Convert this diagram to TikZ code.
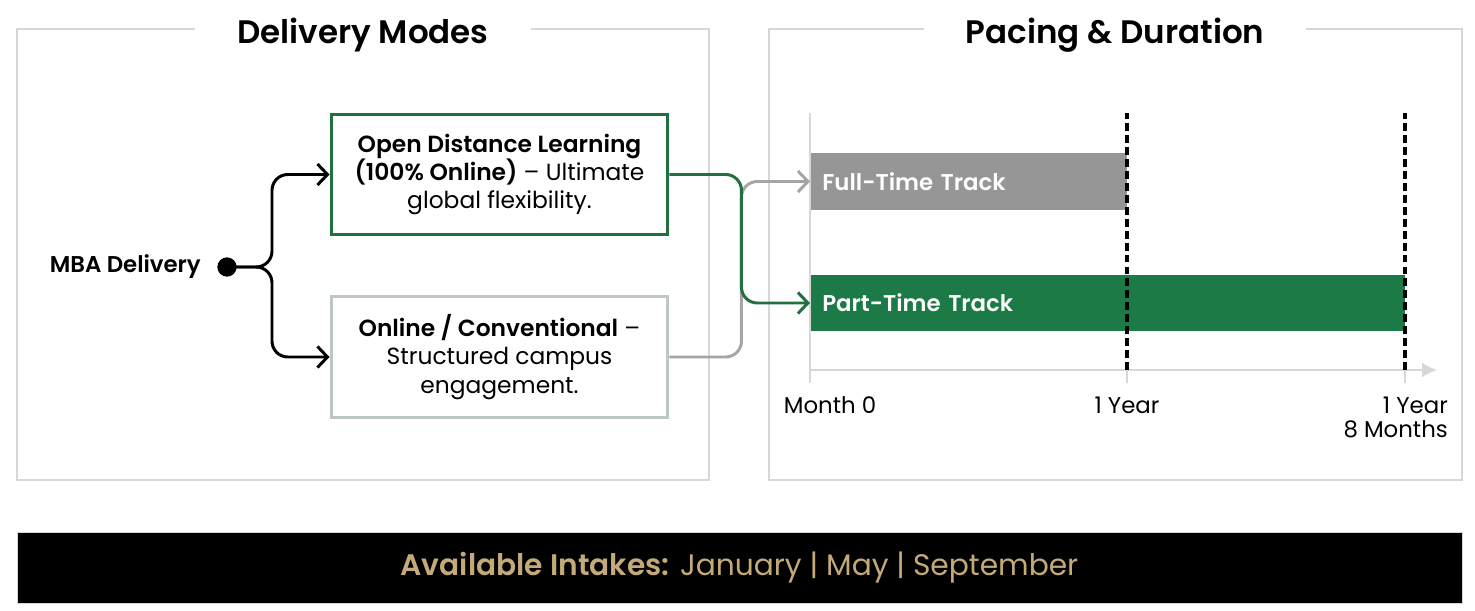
\documentclass[tikz,border=0pt]{standalone}
\usepackage{fontspec}
\setmainfont{Poppins}[BoldFont={Poppins SemiBold}]
\usepackage{tikz}
\usepackage{xcolor}
\usetikzlibrary{arrows.meta,positioning}

\definecolor{odlgreen}{RGB}{32,112,64}
\definecolor{trackgreen}{RGB}{27,122,69}
\definecolor{softedge}{RGB}{190,200,195}
\definecolor{trackgray}{RGB}{150,150,150}
\definecolor{linkgray}{RGB}{165,165,165}
\definecolor{framegray}{RGB}{215,215,215}
\definecolor{intaketan}{RGB}{196,170,120}

\begin{document}
\begin{tikzpicture}[
  x=0.02cm, y=-0.02cm,
  font=\fontsize{13}{16.2}\selectfont,
  panel/.style={
    draw=framegray,
    line width=0.8pt,
    minimum height=9.02cm
  },
  paneltitle/.style={
    fill=white,
    inner xsep=0.84cm,
    font=\fontsize{18.5}{22}\selectfont\bfseries
  },
  modebox/.style={
    line width=1.7pt,
    minimum width=6.74cm,
    minimum height=2.42cm,
    align=center,
    font=\fontsize{13.3}{16.2}\selectfont
  },
  track/.style={
    anchor=west,
    minimum height=1.14cm,
    inner xsep=0.24cm,
    align=left,
    text=white,
    font=\fontsize{13}{16}\selectfont\bfseries
  },
  flow/.style={-{Straight Barb[length=2mm,width=4.2mm]}, line width=1.7pt, rounded corners=9pt},
  axisline/.style={draw=framegray, line width=1.2pt},
  milestone/.style={dash pattern=on 4.5pt off 2.3pt, line width=1.9pt}
]
  \useasboundingbox (0,0) rectangle (1475,611);

  \node[panel, minimum width=13.84cm] (modes) at (363,254.5) {};
  \node[paneltitle] (modestitle) at (363,35) {Delivery Modes};
  \node[panel, minimum width=13.86cm] (pacing) at (1115.5,254.5) {};
  \node[paneltitle] (pacingtitle) at (1115,35) {Pacing \& Duration};

  \node[circle, fill=black, inner sep=0pt, minimum size=11pt] (dot) at (227,267) {};
  \node[anchor=east, font=\fontsize{13}{16}\selectfont\bfseries, left=0.2cm of dot] (mba) {MBA Delivery};
  \coordinate (fork) at (272,267);

  \node[modebox, draw=odlgreen] (odl) at (499.5,174.5)
    {\textbf{Open Distance Learning}\\\textbf{(100\% Online)} – Ultimate\\global flexibility.};
  \node[modebox, draw=softedge] (campus) at (499.5,357)
    {\textbf{Online / Conventional} –\\Structured campus\\engagement.};

  \draw[flow] (dot.center) -- (fork) |- (odl.west);
  \draw[flow] (dot.center) -- (fork) |- (campus.west);

  % timeline
  \coordinate (origin) at (810,370);
  \coordinate (axistop) at (810,113);
  \coordinate (axisend) at (1437,370);
  \coordinate (yearmark) at (1127,370);
  \coordinate (endmark) at (1405,370);

  \node[track, fill=trackgray, minimum width=6.34cm, text width=5.86cm] (ftbar) at (810,181.5) {Full-Time Track};
  \node[track, fill=trackgreen, minimum width=11.9cm, text width=11.42cm] (ptbar) at (810,303) {Part-Time Track};

  \draw[axisline] (axistop) -- (origin) -- ++(0,13);
  \draw[axisline, -{Latex[length=3mm,width=3mm]}] (origin) -- (axisend);
  \draw[axisline] (yearmark) -- ++(0,13);
  \draw[axisline] (endmark) -- ++(0,13);
  \draw[milestone] (yearmark) -- (yearmark |- axistop);
  \draw[milestone] (endmark) -- (endmark |- axistop);

  \node (month0) at (830,405) {Month 0};
  \node (oneyear) at (1127,405) {1 Year};
  \node[anchor=north east, align=right, font=\fontsize{13}{13.8}\selectfont] (finalmark) at (1454,391) {1 Year\\8 Months};

  \draw[flow, draw=linkgray] (campus.east) -- ++(72,0) |- (ftbar.west);
  \draw[flow, draw=odlgreen] (odl.east) -- ++(72,0) |- (ptbar.west);

  \node[draw=framegray, fill=black, minimum width=28.9cm, minimum height=1.42cm,
        text=intaketan, font=\fontsize{16.9}{19}\selectfont] (intakes) at (739.5,567.5)
    {\textbf{Available Intakes:} January | May | September};
\end{tikzpicture}
\end{document}
